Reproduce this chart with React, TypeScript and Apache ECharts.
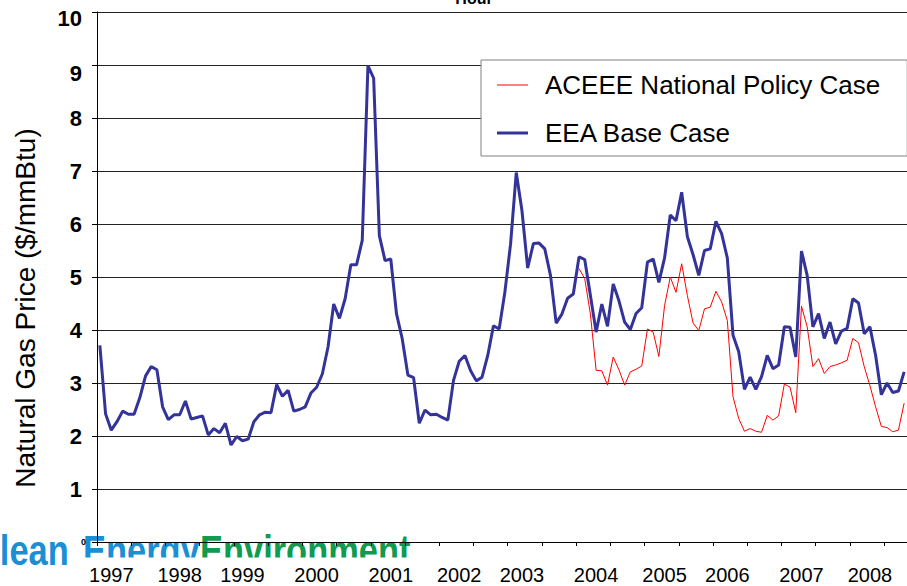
import React, { useEffect, useRef } from "react";
import * as echarts from "echarts";

// Monthly natural gas price, $/mmBtu, starting January 1997
const START_YEAR = 1997;
const BASE_CASE = [
  3.71, 2.42, 2.11, 2.27, 2.47, 2.41, 2.41, 2.72, 3.13, 3.31, 3.25, 2.55,
  2.31, 2.4, 2.4, 2.66, 2.32, 2.35, 2.38, 2.02, 2.14, 2.06, 2.24, 1.83,
  1.99, 1.91, 1.94, 2.27, 2.4, 2.45, 2.44, 2.97, 2.75, 2.86, 2.47, 2.5,
  2.55, 2.81, 2.92, 3.17, 3.68, 4.49, 4.22, 4.59, 5.23, 5.23, 5.69, 8.99,
  8.75, 5.78, 5.31, 5.34, 4.31, 3.84, 3.15, 3.1, 2.24, 2.49, 2.4, 2.41,
  2.35, 2.3, 3.05, 3.41, 3.52, 3.23, 3.04, 3.11, 3.52, 4.08, 4.02, 4.71,
  5.62, 6.97, 6.25, 5.17, 5.63, 5.64, 5.53, 5.03, 4.13, 4.3, 4.6, 4.68,
  5.38, 5.33, 4.65, 3.96, 4.49, 4.07, 4.87, 4.55, 4.15, 4.01, 4.31, 4.42,
  5.28, 5.34, 4.9, 5.36, 6.17, 6.06, 6.6, 5.76, 5.42, 5.03, 5.5, 5.53,
  6.05, 5.82, 5.36, 3.9, 3.59, 2.88, 3.11, 2.88, 3.12, 3.52, 3.27, 3.34,
  4.06, 4.05, 3.49, 5.49, 5.03, 4.06, 4.31, 3.84, 4.15, 3.74, 3.98, 4.03,
  4.59, 4.51, 3.93, 4.06, 3.52, 2.78, 3.0, 2.82, 2.85, 3.21,
];
// ACEEE National Policy Case starts at month index 84 (January 2004)
const POLICY_START_INDEX = 84;
const POLICY_CASE = [
  5.16, 4.97, 4.3, 3.24, 3.23, 2.96, 3.49, 3.25, 2.96, 3.21, 3.26, 3.32,
  4.02, 3.96, 3.5, 4.46, 5.0, 4.71, 5.25, 4.65, 4.13, 3.99, 4.4, 4.43,
  4.73, 4.53, 4.18, 2.74, 2.33, 2.09, 2.14, 2.09, 2.07, 2.39, 2.3, 2.38,
  2.98, 2.92, 2.44, 4.45, 4.06, 3.31, 3.46, 3.18, 3.31, 3.34, 3.38, 3.43,
  3.84, 3.76, 3.31, 2.95, 2.55, 2.18, 2.16, 2.08, 2.11, 2.62,
];
const YEAR_LABELS = ["1997", "1998", "1999", "2000", "2001", "2002", "2003", "2004", "2005", "2006", "2007", "2008"];
const YEAR_LABEL_INDEX = [2, 14, 25, 38, 51, 63, 74, 87, 99, 110, 123, 135];
const SERIES_NAMES = ["ACEEE National Policy Case", "EEA Base Case"];

const FONT = "'Liberation Sans', Arial, Helvetica, sans-serif";

export default function App() {
  const ref = useRef<HTMLDivElement>(null);

  useEffect(() => {
    if (!ref.current) return;
    const chart = echarts.init(ref.current, undefined, { renderer: "svg" });

    const months = BASE_CASE.map((_, i) => `${START_YEAR + Math.floor(i / 12)}-${String((i % 12) + 1).padStart(2, "0")}`);
    const policy = months.map((_, i) => (i >= POLICY_START_INDEX ? POLICY_CASE[i - POLICY_START_INDEX] ?? null : null));

    const logoFont = `bold 42px ${FONT}`;

    const option: any = {
      animation: false,
      backgroundColor: "#ffffff",
      grid: { left: 97, top: 12, width: 812, height: 530, containLabel: false },
      legend: {
        z: 30,
        orient: "vertical",
        left: 481,
        top: 60,
        padding: [12, 27, 10, 16],
        itemGap: 22,
        itemWidth: 31,
        itemHeight: 14,
        backgroundColor: "#ffffff",
        borderColor: "#808080",
        borderWidth: 1,
        textStyle: { fontSize: 26, fontFamily: FONT, color: "#000", padding: [0, 0, 0, 12] },
        data: [
          { name: SERIES_NAMES[0], icon: "path://M0,0H31V1H0Z", itemStyle: { color: "#ff0000" } },
          { name: SERIES_NAMES[1], icon: "path://M0,0H31V3H0Z", itemStyle: { color: "#333399" } },
        ],
      },
      xAxis: {
        type: "category",
        z: 12,
        data: months,
        boundaryGap: true,
        axisLine: { show: true, lineStyle: { color: "#000", width: 1 } },
        axisTick: { show: true, interval: 5, length: 4, lineStyle: { color: "#000" } },
        axisLabel: {
          interval: (idx: number) => YEAR_LABEL_INDEX.includes(idx),
          formatter: (_v: string, idx: number) => {
            const k = YEAR_LABEL_INDEX.indexOf(idx);
            return k >= 0 ? YEAR_LABELS[k] : "";
          },
          fontSize: 20,
          fontFamily: FONT,
          color: "#000",
          margin: 23,
        },
        splitLine: { show: false },
      },
      yAxis: {
        type: "value",
        z: 12,
        min: 0,
        max: 10,
        interval: 1,
        axisLine: { show: true, lineStyle: { color: "#000", width: 1 } },
        axisTick: { show: true, length: 5, lineStyle: { color: "#000" } },
        splitLine: { show: true, lineStyle: { color: "#222", width: 1 } },
        axisLabel: {
          margin: 11,
          formatter: (v: number) => {
            if (v === 0) return "{s|0}";
            if (v === 9) return "{n9|9}";
            if (v === 10) return "{n10|10}";
            return `{b|${v}}`;
          },
          rich: {
            b: { fontSize: 22, fontWeight: "bold", fontFamily: FONT, color: "#000", padding: [0, 4, 0, 0] },
            n9: { fontSize: 22, fontWeight: "bold", fontFamily: FONT, color: "#000", padding: [17, 4, 0, 0] },
            n10: { fontSize: 22, fontWeight: "bold", fontFamily: FONT, color: "#000", padding: [12, 4, 0, 0] },
            s: { fontSize: 9, fontWeight: "bold", fontFamily: FONT, color: "#000" },
          },
        },
      },
      series: [
        {
          name: SERIES_NAMES[0],
          type: "line",
          data: policy,
          symbol: "none",
          showSymbol: false,
          connectNulls: false,
          lineStyle: { color: "#ff0000", width: 1 },
          itemStyle: { color: "#ff0000" },
          z: 20,
        },
        {
          name: SERIES_NAMES[1],
          type: "line",
          data: BASE_CASE,
          symbol: "none",
          showSymbol: false,
          lineStyle: { color: "#333399", width: 3 },
          itemStyle: { color: "#333399" },
          z: 21,
        },
      ],
      graphic: [
        {
          type: "text",
          x: 474,
          y: -2,
          z: 10,
          style: { text: "Hour", font: `bold 16px ${FONT}`, fill: "#000", align: "center", verticalAlign: "middle" },
        },
        {
          type: "text",
          x: 25,
          y: 308,
          rotation: Math.PI / 2,
          z: 10,
          style: {
            text: "Natural Gas Price ($/mmBtu)",
            font: `28px ${FONT}`,
            fill: "#000",
            align: "center",
            verticalAlign: "middle",
          },
        },
        {
          type: "text",
          x: -25,
          y: 550,
          scaleX: 0.82,
          z: 10,
          style: { text: "Clean", font: logoFont, fill: "#1a8fd6", align: "left", verticalAlign: "middle" },
        },
        {
          type: "text",
          x: 83,
          y: 550,
          scaleX: 0.82,
          z: 10,
          style: { text: "Energy", font: logoFont, fill: "#1a8fd6", align: "left", verticalAlign: "middle" },
        },
        {
          type: "text",
          x: 200,
          y: 550,
          scaleX: 0.82,
          z: 10,
          style: { text: "Environment", font: logoFont, fill: "#0f9b50", align: "left", verticalAlign: "middle" },
        },
        {
          type: "rect",
          z: 11,
          shape: { x: 78, y: 557.5, width: 340, height: 22 },
          style: { fill: "#ffffff" },
        },
      ],
    };

    chart.setOption(option);
    return () => chart.dispose();
  }, []);

  return (
    <div
      ref={ref}
      style={{ position: "absolute", left: 0, top: 0, width: 907, height: 586 }}
    />
  );
}
